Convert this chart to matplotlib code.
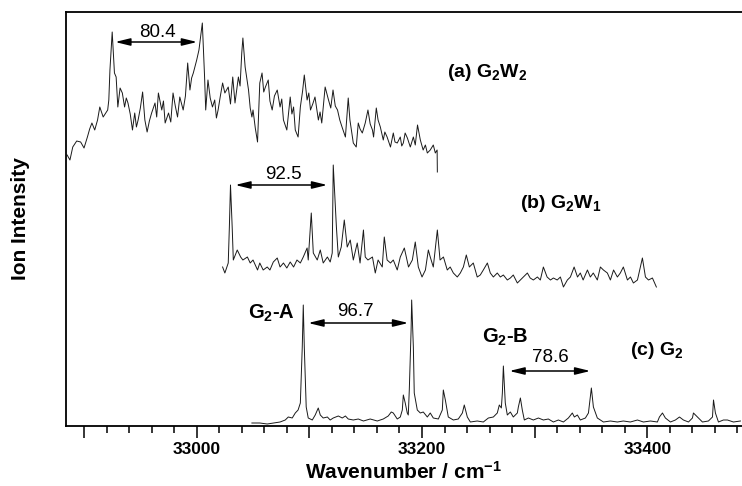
import matplotlib
matplotlib.use("Agg")
import matplotlib.pyplot as plt
from matplotlib.ticker import MultipleLocator, FuncFormatter

plt.rcParams['font.family'] = ['Liberation Sans', 'DejaVu Sans']
plt.rcParams['mathtext.fontset'] = 'custom'
plt.rcParams['mathtext.rm'] = 'Liberation Sans'
plt.rcParams['mathtext.bf'] = 'Liberation Sans:bold'
plt.rcParams['mathtext.default'] = 'bf'

# (a) G2W2 spectrum
wn_a = [32885, 32887.5, 32890, 32893.5, 32897, 32900, 32903, 32905, 32907, 32909.5,
        32912, 32914, 32917, 32921, 32922, 32923, 32925, 32927, 32928.5, 32930,
        32932, 32934, 32936, 32937.5, 32939, 32941, 32943, 32945, 32946.5, 32948,
        32950, 32952, 32954, 32956, 32958, 32960, 32963, 32964.5, 32966, 32969,
        32970.5, 32972, 32975, 32977, 32979, 32981, 32983, 32985, 32988, 32990,
        32992, 32994, 32995.5, 32997, 33000, 33002, 33005, 33007, 33008, 33010,
        33012, 33014, 33016, 33017.5, 33019, 33021, 33023, 33025, 33028, 33030,
        33032, 33034, 33037, 33038.5, 33040, 33041, 33043, 33046, 33047.5, 33049,
        33050, 33052, 33054, 33056, 33058, 33059.5, 33061, 33063.5, 33065, 33067,
        33069, 33071.5, 33074, 33075.5, 33077, 33080, 33083, 33084.5, 33086, 33087.5,
        33090, 33092, 33094, 33095.5, 33098, 33099.5, 33101, 33103, 33105, 33108,
        33109.5, 33111, 33114, 33117, 33119, 33121, 33123, 33125, 33127, 33129,
        33132, 33134.5, 33136, 33139, 33141.6, 33143.4, 33145, 33147, 33149.6, 33152,
        33154, 33156, 33157, 33159.4, 33161, 33163, 33165.6, 33167, 33169, 33172,
        33174.5, 33176, 33178, 33180.7, 33182, 33183.4, 33185, 33187, 33189.6, 33192.3,
        33194, 33196, 33198.5, 33201, 33203, 33204.7, 33207.3, 33210, 33211.8, 33213.4,
        33213.6]
int_a = [271, 266, 279, 285, 284, 278, 289, 297, 303, 296,
         306, 319, 309, 316, 326, 356, 394, 353, 349, 319,
         338, 333, 319, 328, 323, 312, 296, 313, 299, 306,
         318, 334, 306, 294, 305, 313, 323, 309, 333, 316,
         325, 303, 313, 304, 333, 320, 309, 329, 316, 330,
         363, 336, 348, 353, 366, 376, 403, 349, 316, 346,
         328, 319, 326, 308, 316, 330, 343, 333, 339, 322,
         349, 323, 349, 340, 373, 388, 359, 336, 318, 309,
         316, 298, 284, 343, 353, 334, 339, 346, 325, 316,
         330, 336, 319, 327, 306, 296, 329, 312, 319, 296,
         289, 319, 335, 351, 326, 333, 316, 322, 329, 306,
         314, 303, 339, 326, 318, 336, 320, 316, 306, 299,
         289, 328, 306, 283, 279, 303, 297, 293, 303, 316,
         302, 296, 289, 318, 306, 299, 286, 294, 289, 279,
         293, 284, 283, 289, 280, 283, 293, 288, 279, 289,
         281, 301, 286, 276, 281, 273, 276, 281, 273, 276,
         254]

# (b) G2W1 spectrum
wn_b = [33023, 33025, 33028, 33029, 33030, 33031.5, 33032.5, 33036, 33039, 33041,
        33045, 33047.5, 33050, 33054, 33056, 33059, 33062.6, 33065, 33068, 33071.5,
        33074, 33077, 33080, 33083, 33086, 33089, 33092, 33094.6, 33098, 33099,
        33101.7, 33103.5, 33107, 33109.7, 33112.3, 33116, 33118.5, 33120.3, 33121.2, 33124,
        33125.7, 33128.3, 33131, 33133.6, 33136.3, 33139, 33142.5, 33145, 33148, 33149.6,
        33152, 33156, 33158.5, 33161, 33164.7, 33166.5, 33169, 33172, 33174.5, 33178,
        33180.7, 33184.3, 33188, 33191.4, 33194, 33196.7, 33200, 33203, 33205.6, 33207.3,
        33210, 33213.6, 33216, 33219, 33222.4, 33225, 33227.8, 33231.3, 33234, 33236.7,
        33239.3, 33242, 33245.5, 33249, 33251.7, 33254.4, 33258, 33260.6, 33263.3, 33266.8,
        33269.5, 33272.2, 33275.7, 33278.4, 33281, 33284.6, 33287.3, 33290, 33293.5, 33296,
        33298.8, 33302.4, 33305, 33307.7, 33311, 33314, 33316.6, 33320, 33322.8, 33325.5,
        33329, 33331.7, 33335, 33338, 33340.5, 33343, 33346.8, 33349.4, 33352, 33355.6,
        33358.3, 33361, 33364.5, 33367.2, 33370, 33373.4, 33376, 33378.7, 33382.3, 33385,
        33387.6, 33391.2, 33395.6, 33398.3, 33401, 33404.5, 33408]
int_b = [159, 153, 163, 199, 241, 199, 166, 176, 169, 166,
         169, 163, 166, 156, 163, 156, 159, 156, 164, 168,
         159, 163, 158, 164, 159, 166, 163, 169, 178, 166,
         213, 173, 166, 176, 163, 169, 164, 173, 261, 199,
         169, 179, 206, 179, 186, 166, 183, 163, 196, 169,
         166, 169, 153, 166, 159, 189, 166, 163, 166, 156,
         169, 178, 159, 166, 184, 159, 149, 156, 176, 169,
         159, 196, 166, 169, 156, 159, 153, 149, 153, 159,
         171, 159, 163, 149, 151, 156, 163, 153, 149, 153,
         149, 151, 146, 148, 151, 143, 146, 149, 153, 148,
         146, 149, 146, 159, 149, 146, 148, 146, 149, 139,
         146, 149, 159, 149, 153, 146, 156, 149, 153, 146,
         159, 156, 153, 146, 156, 149, 153, 159, 146, 149,
         143, 146, 168, 149, 146, 148, 139]

# (c) G2 spectrum
wn_c = [33049, 33056, 33062.6, 33068, 33074, 33078.6, 33081.3, 33084.8, 33087.5, 33090,
        33092, 33093.7, 33094.6, 33095.5, 33097.2, 33099, 33102.6, 33105.2, 33107.9, 33109.7,
        33112.3, 33116, 33118.5, 33121.2, 33125.7, 33129.2, 33132, 33134.5, 33139, 33143.4,
        33148, 33154, 33160.3, 33165.6, 33170, 33172.7, 33174.5, 33178, 33180.7, 33182.5,
        33183.4, 33185.1, 33186.9, 33187.8, 33188.7, 33190.3, 33190.8, 33192.3, 33193.1, 33195.8,
        33198.5, 33201.1, 33204.7, 33207.3, 33210, 33214.5, 33218, 33218.9, 33220.7, 33223.3,
        33227.8, 33232.2, 33235.8, 33237.5, 33240.2, 33242.9, 33249, 33254.4, 33258.9, 33263.3,
        33266.8, 33268.6, 33270.4, 33271.3, 33272.2, 33273.9, 33275.7, 33278.4, 33281, 33284.6,
        33285.5, 33287.3, 33289, 33290.8, 33294.4, 33298.8, 33303.3, 33307.7, 33312.1, 33316.6,
        33321, 33325.5, 33329.9, 33333.4, 33335.2, 33337.9, 33340.5, 33345, 33347.7, 33350.3,
        33352.1, 33355.6, 33361, 33367.2, 33373.4, 33378.7, 33384.9, 33391.2, 33396.5, 33402.7,
        33408.9, 33410.7, 33413.4, 33416, 33420.5, 33424.9, 33428.5, 33432, 33436.5, 33440,
        33440.9, 33444.4, 33448.9, 33454.2, 33457.8, 33458.7, 33460.4, 33463.1, 33467.5, 33471.1,
        33476.4, 33482.6]
int_c = [3, 3, 2, 3, 4, 6, 9, 8, 13, 16,
         23, 79, 121, 79, 19, 8, 6, 11, 18, 11,
         8, 9, 6, 8, 10, 8, 10, 7, 6, 7,
         5, 7, 5, 7, 10, 14, 13, 7, 9, 16,
         31, 23, 13, 11, 36, 96, 126, 79, 33, 16,
         13, 14, 9, 13, 8, 7, 16, 36, 26, 9,
         6, 7, 13, 21, 9, 4, 5, 4, 8, 9,
         13, 21, 18, 33, 60, 23, 11, 14, 9, 13,
         19, 28, 16, 6, 8, 6, 8, 6, 7, 4,
         6, 4, 8, 13, 9, 11, 6, 8, 13, 38,
         19, 8, 4, 5, 4, 5, 4, 6, 4, 5,
         4, 9, 13, 8, 4, 6, 9, 6, 4, 8,
         13, 9, 4, 5, 9, 26, 13, 4, 6, 6,
         4, 5]

fig = plt.figure(figsize=(7.42, 4.86), dpi=100)
ax = fig.add_axes([66 / 742, 1 - 426 / 486, 1 - 66 / 742, 414 / 486])

for wn, inten in [(wn_a, int_a), (wn_b, int_b), (wn_c, int_c)]:
    ax.plot(wn, inten, color='#1a1a1a', lw=0.7)

ax.set_xlim(32884, 33484)
ax.set_ylim(0, 414)

ax.spines['right'].set_visible(False)
for s in ['left', 'top', 'bottom']:
    ax.spines[s].set_linewidth(1.3)

ax.set_yticks([])
ax.xaxis.set_major_locator(MultipleLocator(100))
ax.xaxis.set_minor_locator(MultipleLocator(20))
ax.xaxis.set_major_formatter(FuncFormatter(lambda v, p: '%d' % v if v % 200 == 0 else ''))
ax.tick_params(axis='x', which='major', direction='out', length=8.5, width=1.1, pad=3,
               labelsize=12.5)
ax.tick_params(axis='x', which='minor', direction='out', length=5, width=1.1)
for lab in ax.get_xticklabels():
    lab.set_fontweight('bold')

ax.set_xlabel('Wavenumber / cm$^{-1}$', fontsize=15, fontweight='bold', labelpad=3)
ax.set_ylabel('Ion Intensity', fontsize=15, fontweight='bold', labelpad=26)

arrow = dict(arrowstyle='<|-|>,head_length=0.9,head_width=0.22', color='black', lw=1.1,
             shrinkA=0, shrinkB=0)
ax.annotate('', xy=(32927.6, 384), xytext=(33000.4, 384), arrowprops=arrow)
ax.annotate('', xy=(33034.2, 241), xytext=(33115.9, 241), arrowprops=arrow)
ax.annotate('', xy=(33099, 103), xytext=(33187.8, 103), arrowprops=arrow)
ax.annotate('', xy=(33277.5, 55), xytext=(33349.4, 55), arrowprops=arrow)

ax.text(32965, 394, '80.4', fontsize=13.5, ha='center', va='center')
ax.text(33077, 252, '92.5', fontsize=13.5, ha='center', va='center')
ax.text(33140.7, 115, '96.7', fontsize=13.5, ha='center', va='center')
ax.text(33313.9, 69, '78.6', fontsize=13.5, ha='center', va='center')

ax.text(33222.4, 354, '(a) G$_2$W$_2$', fontsize=14, fontweight='bold', va='center')
ax.text(33287, 223, '(b) G$_2$W$_1$', fontsize=14, fontweight='bold', va='center')
ax.text(33384.5, 76, '(c) G$_2$', fontsize=14, fontweight='bold', va='center')
ax.text(33045.7, 113, 'G$_2$-A', fontsize=14.5, fontweight='bold', va='center')
ax.text(33253.4, 89, 'G$_2$-B', fontsize=14.5, fontweight='bold', va='center')

fig.savefig('out.png', dpi=100)
